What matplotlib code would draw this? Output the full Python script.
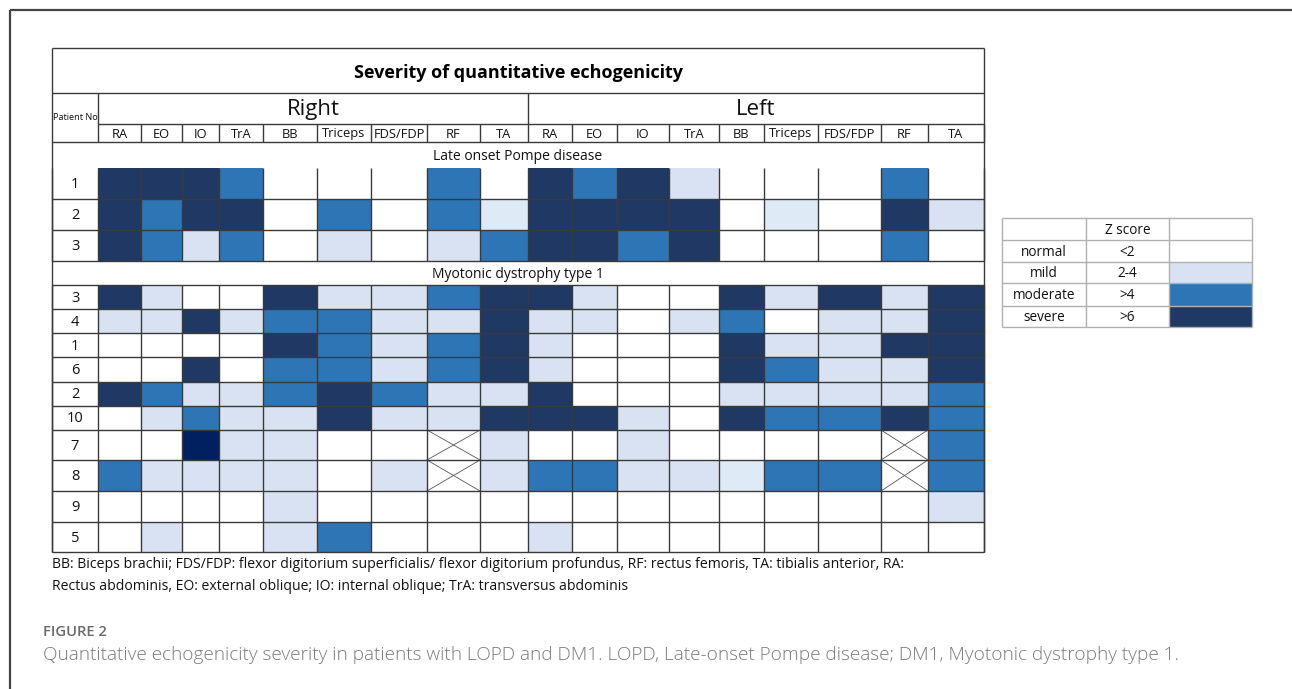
import matplotlib
matplotlib.use("Agg")
import matplotlib.pyplot as plt
from matplotlib.patches import Rectangle

# ---------------- data ----------------
muscles = ["RA", "EO", "IO", "TrA", "BB", "Triceps", "FDS/FDP", "RF", "TA"]
sides = ["Right", "Left"]
# codes: 0 normal, 1 mild, 2 moderate, 3 severe, 4 severe (darkest), 5 mild (pale), -1 not assessed
lopd_ids = ["1", "2", "3"]
lopd_right = [[3, 3, 3, 2, 0, 0, 0, 2, 0],
              [3, 2, 3, 3, 0, 2, 0, 2, 5],
              [3, 2, 1, 2, 0, 1, 0, 1, 2]]
lopd_left = [[3, 2, 3, 1, 0, 0, 0, 2, 0],
             [3, 3, 3, 3, 0, 5, 0, 3, 1],
             [3, 3, 2, 3, 0, 0, 0, 2, 0]]
dm_ids = ["3", "4", "1", "6", "2", "10", "7", "8", "9", "5"]
dm_right = [[3, 1, 0, 0, 3, 1, 1, 2, 3],
            [1, 1, 3, 1, 2, 2, 1, 1, 3],
            [0, 0, 0, 0, 3, 2, 1, 2, 3],
            [0, 0, 3, 0, 2, 2, 1, 2, 3],
            [3, 2, 1, 1, 2, 3, 2, 1, 1],
            [0, 1, 2, 1, 1, 3, 1, 1, 3],
            [0, 0, 4, 1, 1, 0, 0, -1, 1],
            [2, 1, 1, 1, 1, 0, 1, -1, 1],
            [0, 0, 0, 0, 1, 0, 0, 0, 0],
            [0, 1, 0, 0, 1, 2, 0, 0, 0]]
dm_left = [[3, 1, 0, 0, 3, 1, 3, 1, 3],
           [1, 1, 0, 1, 2, 0, 1, 1, 3],
           [1, 0, 0, 0, 3, 1, 1, 3, 3],
           [1, 0, 0, 0, 3, 2, 1, 1, 3],
           [3, 0, 0, 0, 1, 1, 1, 1, 2],
           [3, 3, 1, 0, 3, 2, 2, 3, 2],
           [0, 0, 1, 0, 0, 0, 0, -1, 2],
           [2, 2, 1, 1, 5, 2, 2, -1, 2],
           [0, 0, 0, 0, 0, 0, 0, 0, 1],
           [1, 0, 0, 0, 0, 0, 0, 0, 0]]
legend_labels = ["normal", "mild", "moderate", "severe"]
legend_z = ["<2", "2-4", ">4", ">6"]
legend_codes = [0, 1, 2, 3]
footnote = ["BB: Biceps brachii; FDS/FDP: flexor digitorium superficialis/ flexor digitorium profundus, RF: rectus femoris, TA: tibialis anterior, RA:",
            "Rectus abdominis, EO: external oblique; IO: internal oblique; TrA: transversus abdominis"]
fig_label = "FIGURE 2"
caption = "Quantitative echogenicity severity in patients with LOPD and DM1. LOPD, Late-onset Pompe disease; DM1, Myotonic dystrophy type 1."

# ---------------- style ----------------
colors = {0: "#FFFFFF", 1: "#D9E2F3", 2: "#2E75B6", 3: "#1F3864",
          4: "#002060", 5: "#DEEBF7", -1: "#FFFFFF"}
FONT = "Open Sans"
LC = "#3a3a3a"
plt.rcParams["font.family"] = [FONT, "DejaVu Sans"]

W, H = 1292, 689
fig = plt.figure(figsize=(W / 100, H / 100), dpi=100)
ax = fig.add_axes([0, 0, 1, 1])
ax.set_xlim(0, W)
ax.set_ylim(H, 0)
ax.axis("off")

# layout (pixel grid)
x0, xp = 52, 98
col_edges = [98, 141, 182, 219, 263, 317, 371, 427, 480, 528,
             572, 617, 669, 719, 764, 818, 881, 928, 984]
x1 = col_edges[-1]
y_title, y_side, y_mus, y_col = 48, 93, 124, 142
y_lopd_hdr = 168
lopd_row_edges = [168, 199, 230, 261]
y_dm_hdr = 285
dm_row_edges = [285, 309, 333, 357, 382, 406, 430, 460, 491, 522, 552]


def hline(y, xa, xb, c=LC, lw=1.0):
    ax.plot([xa, xb], [y, y], color=c, lw=lw, solid_capstyle="butt", zorder=3)


def vline(x, ya, yb, c=LC, lw=1.0):
    ax.plot([x, x], [ya, yb], color=c, lw=lw, solid_capstyle="butt", zorder=3)


def draw_rows(ids, right, left, edges):
    for r, pid in enumerate(ids):
        ya, yb = edges[r], edges[r + 1]
        vals = list(right[r]) + list(left[r])
        for c, v in enumerate(vals):
            xa, xb = col_edges[c], col_edges[c + 1]
            ax.add_patch(Rectangle((xa, ya), xb - xa, yb - ya, facecolor=colors[v],
                                   edgecolor="none", zorder=1))
            if v == -1:
                ax.plot([xa, xb], [ya, yb], color="#555555", lw=0.6, zorder=2)
                ax.plot([xa, xb], [yb, ya], color="#555555", lw=0.6, zorder=2)
        ax.text((x0 + xp) / 2, (ya + yb) / 2 + 1, pid, ha="center", va="center",
                fontsize=10.5, color="#111111")
        hline(yb, x0, x1)
    for x in col_edges:
        vline(x, edges[0], edges[-1])
    vline(x0, edges[0], edges[-1])


# outer page frame
hline(10, 10, W, c="#444444", lw=1.6)
vline(10, 10, H, c="#444444", lw=1.6)

# title
hline(y_title, x0, x1)
ax.text((x0 + x1) / 2, (y_title + y_side) / 2 + 2, "Severity of quantitative echogenicity",
        ha="center", va="center", fontsize=13, fontweight="bold", color="#000000")
hline(y_side, x0, x1)
# side headers
mid = col_edges[9]
ax.text((col_edges[0] + mid) / 2, (y_side + y_mus) / 2 + 1, sides[0], ha="center",
        va="center", fontsize=16, color="#111111")
ax.text((mid + x1) / 2, (y_side + y_mus) / 2 + 1, sides[1], ha="center",
        va="center", fontsize=16, color="#111111")
hline(y_mus, col_edges[0], x1)
ax.text(x0 + 1, 118, "Patient No", ha="left", va="center", fontsize=6.6, color="#111111")
for i in range(18):
    ax.text((col_edges[i] + col_edges[i + 1]) / 2, (y_mus + y_col) / 2 + 1,
            muscles[i % 9], ha="center", va="center", fontsize=9.3, color="#111111")
    vline(col_edges[i + 1], y_mus, y_col)
vline(xp, y_side, y_col)
vline(mid, y_side, y_mus)
hline(y_col, x0, x1)
# group headers
ax.text((x0 + x1) / 2, (y_col + y_lopd_hdr) / 2 + 1, "Late onset Pompe disease",
        ha="center", va="center", fontsize=10, color="#111111")
draw_rows(lopd_ids, lopd_right, lopd_left, lopd_row_edges)
ax.text((x0 + x1) / 2, (lopd_row_edges[-1] + y_dm_hdr) / 2 + 1, "Myotonic dystrophy type 1",
        ha="center", va="center", fontsize=10, color="#111111")
hline(y_dm_hdr, x0, x1)
draw_rows(dm_ids, dm_right, dm_left, dm_row_edges)
# outer table border
vline(x0, y_title, dm_row_edges[-1])
vline(x1, y_title, dm_row_edges[-1])

# footnote
ax.text(x0, 565, footnote[0], ha="left", va="center", fontsize=10.1, color="#111111")
ax.text(x0, 586, footnote[1], ha="left", va="center", fontsize=10.1, color="#111111")

# legend table
lx = [1002, 1086, 1169, 1252]
ly = [218, 240, 262, 283, 306, 327]
LG = "#b0b0b0"
ax.text((lx[1] + lx[2]) / 2, (ly[0] + ly[1]) / 2 + 1, "Z score", ha="center", va="center",
        fontsize=9.8, color="#111111")
for i, (lab, z, code) in enumerate(zip(legend_labels, legend_z, legend_codes)):
    ya, yb = ly[i + 1], ly[i + 2]
    ax.add_patch(Rectangle((lx[2], ya), lx[3] - lx[2], yb - ya, facecolor=colors[code],
                           edgecolor="none", zorder=1))
    ax.text((lx[0] + lx[1]) / 2, (ya + yb) / 2 + 1, lab, ha="center", va="center",
            fontsize=9.8, color="#111111")
    ax.text((lx[1] + lx[2]) / 2, (ya + yb) / 2 + 1, z, ha="center", va="center",
            fontsize=9.8, color="#111111")
for y in ly:
    hline(y, lx[0], lx[3], c=LG)
for x in lx:
    vline(x, ly[0], ly[-1], c=LG)

# caption
ax.text(43, 632, fig_label, ha="left", va="center", fontsize=10.6, color="#6a6a6a",
        fontweight="semibold")
ax.text(43, 655, caption, ha="left", va="center", fontsize=13.7, color="#7a7a7a",
        fontweight="light")

fig.savefig("out.png", dpi=100)
